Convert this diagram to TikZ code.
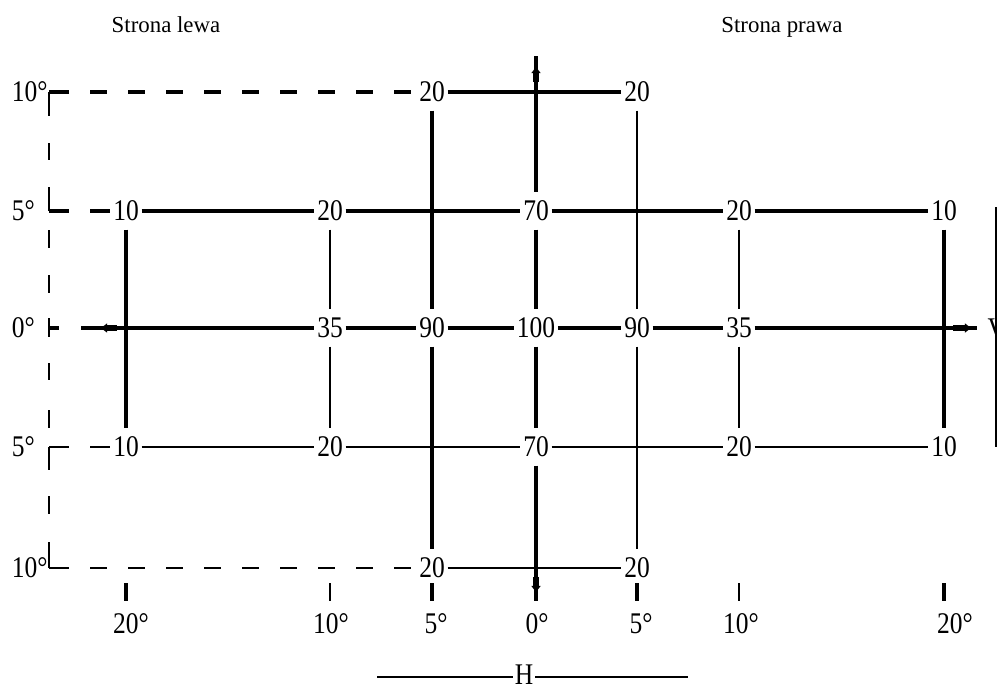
\documentclass[tikz,border=0pt]{standalone}
\usepackage{fontspec}
\setmainfont{Liberation Serif}
\newfontfamily\valfont[FakeStretch=0.85]{Liberation Serif}
\usetikzlibrary{arrows.meta}
\tikzset{
	val/.style={font=\valfont\fontsize{10.5}{12}\selectfont, inner xsep=0.8pt, inner ysep=2.8pt},
	deg/.style={font=\valfont\fontsize{10.5}{12}\selectfont, inner sep=0.8pt},
	side/.style={font=\fontsize{8}{10}\selectfont, anchor=base},
	heavy/.style={line width=1.3pt},
	light/.style={line width=0.75pt},
	dashrow/.style={dash pattern=on 6pt off 7.3pt},
	axmark/.style={line width=2.4pt, -{Latex[length=2.5pt,width=3.6pt]}},
}
\begin{document}
\begin{tikzpicture}[x=0.35pt, y=-0.35pt]
	\useasboundingbox (0,0) rectangle (997,687);
	% captions
	\node[side] (lewa) at (166,32) {Strona lewa};
	\node[side] (prawa) at (782,32) {Strona prawa};
	% field values
	\node[val] (tC) at (432,92) {20};
	\node[val] (tE) at (637,92) {20};
	\node[val] (uA) at (126,211) {10};
	\node[val] (uB) at (330,211) {20};
	\node[val] (uD) at (536,211) {70};
	\node[val] (uF) at (739,211) {20};
	\node[val] (uG) at (944,211) {10};
	\node[val] (mB) at (330,328) {35};
	\node[val] (mC) at (432,328) {90};
	\node[val] (mD) at (536,328) {100};
	\node[val] (mE) at (637,328) {90};
	\node[val] (mF) at (739,328) {35};
	\node[val] (lA) at (126,447) {10};
	\node[val] (lB) at (330,447) {20};
	\node[val] (lD) at (536,447) {70};
	\node[val] (lF) at (739,447) {20};
	\node[val] (lG) at (944,447) {10};
	\node[val] (bC) at (432,568) {20};
	\node[val] (bE) at (637,568) {20};
	% row angles
	\node[deg, anchor=west] (r10t) at (9,92) {10°};
	\node[deg, anchor=west] (r5t) at (9,211) {5°};
	\node[deg, anchor=west] (r0) at (9,328) {0°};
	\node[deg, anchor=west] (r5b) at (9,447) {5°};
	\node[deg, anchor=west] (r10b) at (9,568) {10°};
	% column angles
	\node[deg] (c20l) at (131,624) {20°};
	\node[deg] (c10l) at (331,624) {10°};
	\node[deg] (c5l) at (436,624) {5°};
	\node[deg] (c0) at (537,624) {0°};
	\node[deg] (c5r) at (641,624) {5°};
	\node[deg] (c10r) at (741,624) {10°};
	\node[deg] (c20r) at (955,624) {20°};
	% axis ends
	\coordinate (mL) at (81,328);
	\coordinate (mR) at (977,328);
	\coordinate (dTop) at (536,56);
	\coordinate (dBot) at (536,601);
	% rows
	\draw[heavy] (tC) -- (tE);
	\draw[heavy] (90,211) -- (uA) -- (uB) -- (uD) -- (uF) -- (uG);
	\draw[heavy] (mL) -- (mB) -- (mC) -- (mD) -- (mE) -- (mF) -- (mR);
	\draw[light] (90,447) -- (lA) -- (lB) -- (lD) -- (lF) -- (lG);
	\draw[light] (bC) -- (bE);
	% columns
	\draw[heavy] (uA) -- (lA);
	\draw[light] (uB) -- (mB) -- (lB);
	\draw[heavy] (tC) -- (mC) -- (bC);
	\draw[heavy] (dTop) -- (uD) -- (mD) -- (lD) -- (dBot);
	\draw[light] (tE) -- (mE) -- (bE);
	\draw[light] (uF) -- (mF) -- (lF);
	\draw[heavy] (uG) -- (lG);
	% axis marks
	\draw[axmark] (117,328) -- (100,328);
	\draw[axmark] (953,328) -- (972,328);
	\draw[axmark] (536,82) -- (536,66);
	\draw[axmark] (536,577) -- (536,593);
	% dashed frame, left side
	\draw[heavy, dashrow] (90,92) -- (tC);
	\draw[light, dashrow] (90,568) -- (bC);
	\draw[heavy] (69,92) -- (49,92);
	\draw[heavy] (49,211) -- (69,211);
	\draw[heavy] (49,328) -- (59,328);
	\draw[light] (49,447) -- (69,447);
	\draw[light] (49,568) -- (69,568);
	\foreach \ya/\yb in {92/116,143/160,187/211,230/248,275/293,318/337,363/380,410/428,447/470,496/514,542/568}
		\draw[light] (49,\ya) -- (49,\yb);
	% ticks under the columns
	\foreach \x/\w in {126/heavy,330/light,432/heavy,637/heavy,739/light,944/heavy}
		\draw[\w] (\x,583) -- (\x,601);
	% H and V
	\node[val, inner sep=0.5pt] (hlab) at (524,675) {H};
	\coordinate (hL) at (377,677);
	\coordinate (hR) at (688,677);
	\draw[line width=0.5pt] (hL) -- (hlab.west |- hL);
	\draw[line width=0.5pt] (hlab.east |- hR) -- (hR);
	\node[val, anchor=west, inner sep=0pt] (vlab) at (987,329) {V};
	\coordinate (vT) at (996,207);
	\coordinate (vB) at (996,447);
	\draw[light] (vT) -- (vB);
\end{tikzpicture}
\end{document}
